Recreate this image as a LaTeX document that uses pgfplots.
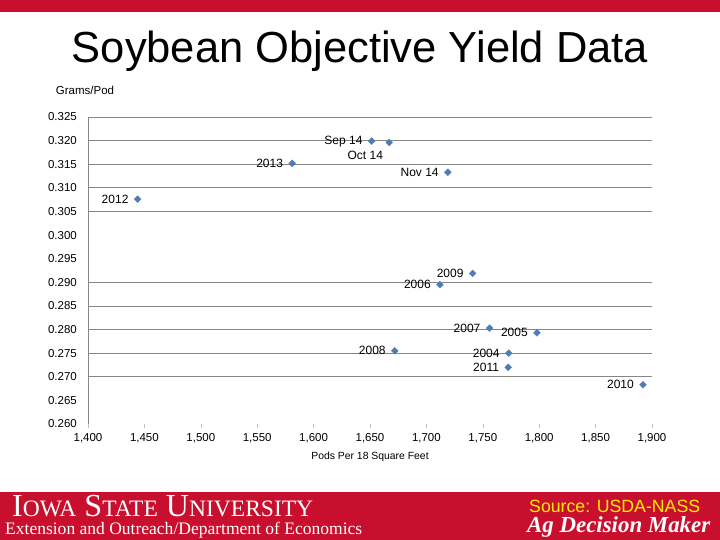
\documentclass[border=0pt]{standalone}
\usepackage{fontspec}
\setmainfont{Liberation Sans}
\newfontfamily\seriffont{Liberation Serif}
\usepackage{graphicx}
\usepackage{pgfplots}
\pgfplotsset{compat=1.18}
\definecolor{isured}{RGB}{200,16,46}
\definecolor{isuyellow}{RGB}{255,235,0}
\definecolor{markblue}{RGB}{79,124,180}
\definecolor{gridgray}{RGB}{134,134,134}
\begin{document}
\begin{tikzpicture}[x=1pt,y=1pt]
\path[use as bounding box, fill=white] (0,0) rectangle (720,540);
\fill[isured] (0,528) rectangle (720,540);
\fill[isured] (0,0) rectangle (720,48);
% title
\node[anchor=base, inner sep=0pt, font=\fontsize{43.5}{46}\selectfont] at (360,477) {Soybean Objective Yield Data};
% axis titles
\node[anchor=center, inner sep=0pt, font=\fontsize{11.5}{13}\selectfont] at (85,450) {Grams/Pod};
\node[anchor=center, inner sep=0pt, font=\fontsize{10.4}{12}\selectfont] at (370,83) {Pods Per 18 Square Feet};
% footer
\node[anchor=base west, inner sep=0pt, text=white] at (12,23) {\resizebox{301pt}{!}{\seriffont\fontsize{30}{32}\selectfont I{\fontsize{22}{24}\selectfont OWA} S{\fontsize{22}{24}\selectfont TATE} U{\fontsize{22}{24}\selectfont NIVERSITY}}};
\node[anchor=base west, inner sep=0pt, text=white] at (5,5) {\resizebox{357pt}{!}{\seriffont\fontsize{14}{16}\selectfont Extension and Outreach/Department of Economics}};
\node[anchor=base west, inner sep=0pt, text=isuyellow] at (529,27) {\resizebox{171pt}{!}{\fontsize{17}{19}\selectfont Source: USDA-NASS}};
\node[anchor=base west, inner sep=0pt, text=white] at (527,7) {\resizebox{183pt}{!}{\seriffont\bfseries\itshape\fontsize{22}{24}\selectfont Ag Decision Maker}};
\begin{axis}[
  at={(88pt,116pt)}, anchor=south west,
  scale only axis, width=564pt, height=307pt,
  xmin=1400, xmax=1900, ymin=0.260, ymax=0.325,
  axis lines=left, axis line style={-},
  x axis line style={draw=none},
  y axis line style={draw=gridgray, line width=0.8pt},
  xtick={1400,1450,...,1900},
  ytick={0.260,0.265,...,0.3251},
  xtick pos=bottom, xtick align=outside,
  major x tick style={draw=gray!50, line width=0.6pt},
  major tick length=4pt,
  major y tick style={draw=none},
  extra y ticks={0.270,0.275,0.280,0.285,0.290,0.305,0.310,0.315,0.320,0.325},
  extra y tick labels={},
  extra y tick style={ymajorgrids=true, major y tick style={draw=none}},
  major grid style={draw=gridgray, line width=0.8pt},
  /pgf/number format/assume math mode=true,
  xticklabel={\pgfmathprintnumber[1000 sep={,}]{\tick}},
  yticklabel={\pgfmathprintnumber[fixed, fixed zerofill, precision=3]{\tick}},
  ticklabel style={font=\fontsize{11.5}{13}\selectfont},
  yticklabel style={inner sep=0pt, xshift=-9pt},
  xticklabel style={inner sep=0pt, yshift=-5pt},
  clip=false,
  point meta=explicit symbolic,
]
\addplot[only marks, mark=square*, mark size=2.4pt, mark options={rotate=45}, color=markblue,
  nodes near coords, nodes near coords style={anchor=east, inner sep=0pt, xshift=-9pt, text=black, font=\fontsize{12}{14}\selectfont}]
coordinates {
(1444,0.3076) [2012]
(1581,0.3152) [2013]
(1651.5,0.3199) [Sep 14]
(1719,0.3133) [Nov 14]
(1741,0.2919) [2009]
(1712,0.2895) [2006]
(1756,0.2803) [2007]
(1798,0.2793) [2005]
(1672,0.2755) [2008]
(1773,0.2750) [2004]
(1772.5,0.2720) [2011]
(1892,0.2683) [2010]
};
\addplot[only marks, mark=square*, mark size=2.4pt, mark options={rotate=45}, color=markblue,
  nodes near coords, nodes near coords style={anchor=north east, inner sep=0pt, xshift=-6pt, yshift=-8pt, text=black, font=\fontsize{12}{14}\selectfont}]
coordinates {
(1667,0.3196) [Oct 14]
};
\end{axis}
\end{tikzpicture}
\end{document}
